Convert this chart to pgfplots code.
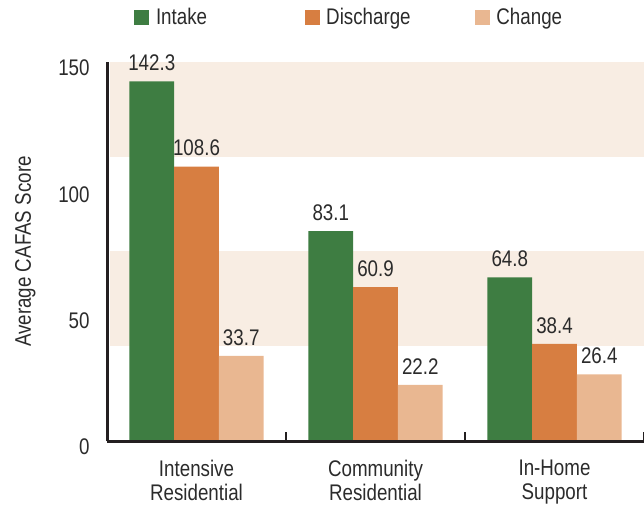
\documentclass[border=0pt]{standalone}
\usepackage{fontspec}
\setmainfont{Liberation Sans}[FakeStretch=0.83]
\usepackage{pgfplots}
\pgfplotsset{compat=1.18}
\definecolor{intake}{HTML}{3E7D42}
\definecolor{discharge}{HTML}{D77E41}
\definecolor{change}{HTML}{E9B791}
\definecolor{band}{HTML}{F8EDE3}
\definecolor{axiscol}{HTML}{231F20}
\definecolor{txt}{HTML}{2B2B2B}
\newcommand\cf{\fontsize{11.3}{12}\selectfont}
\begin{document}
\begin{tikzpicture}
\begin{axis}[
 set layers, axis on top,
 scale only axis, width=268.5pt, height=189.5pt,
 xmin=-0.5, xmax=2.5, ymin=0, ymax=150,
 clip=false,
 axis x line=bottom, axis y line=left,
 axis line style={-, line width=1.5pt, color=axiscol},
 xtick={0,1,2},
 xticklabels={Intensive\\Residential, Community\\Residential, In-Home\\Support},
 ytick={0,50,100,150},
 major tick length=0pt,
 extra x ticks={0.5,1.5,2.5},
 extra x tick labels={},
 extra x tick style={tick align=inside, major tick length=4.5pt, tick style={line width=1pt, color=axiscol}},
 tick label style={font=\cf, color=txt, inner sep=0pt},
 xticklabel style={align=center, anchor=north, yshift=-9.5pt},
 yticklabel style={anchor=east, xshift=-8.5pt, yshift=-3pt},
 /pgf/number format/assume math mode=true,
 ylabel={Average CAFAS Score},
 ylabel style={font=\cf, color=txt, inner sep=0pt, at={(axis description cs:-0.1322,0.5)}, anchor=south},
 ybar, bar width=0.25,
 point meta=y,
 nodes near coords={\pgfmathprintnumber[fixed,fixed zerofill,precision=1]{\pgfplotspointmeta}},
 every node near coord/.append style={font=\cf, color=txt, inner sep=0pt, anchor=south, yshift=5pt},
 legend columns=3,
 legend cell align=left,
 legend style={at={(axis description cs:0.0503,1)}, anchor=west, yshift=22pt, draw=none, fill=none, inner sep=0pt, font=\cf, text=txt, /tikz/every odd column/.append style={column sep=1.3pt}},
 legend image code/.code={\fill[#1,draw=none] (0pt,-3.75pt) rectangle (7.5pt,3.75pt);},
]
\begin{pgfonlayer}{axis background}
\fill[band] (axis cs:-0.483,37.5) rectangle (axis cs:2.5,75);
\fill[band] (axis cs:-0.483,112.5) rectangle (axis cs:2.5,150);
\end{pgfonlayer}
\addplot[fill=intake, draw=none, bar shift=-0.25] coordinates {(0,142.3) (1,83.1) (2,64.8)};
\addlegendentry{\makebox[72.3pt][l]{Intake}}
\addplot[fill=discharge, draw=none, bar shift=0] coordinates {(0,108.6) (1,60.9) (2,38.4)};
\addlegendentry{\makebox[72.3pt][l]{Discharge}}
\addplot[fill=change, draw=none, bar shift=0.25] coordinates {(0,33.7) (1,22.2) (2,26.4)};
\addlegendentry{Change}
\coordinate (SW) at (rel axis cs:0,0);
\coordinate (NE) at (rel axis cs:1,1);
\end{axis}
\pgfresetboundingbox
\path[use as bounding box] ([shift={(-53.5pt,-33pt)}]SW) rectangle ([shift={(0pt,31pt)}]NE);
\end{tikzpicture}
\end{document}
